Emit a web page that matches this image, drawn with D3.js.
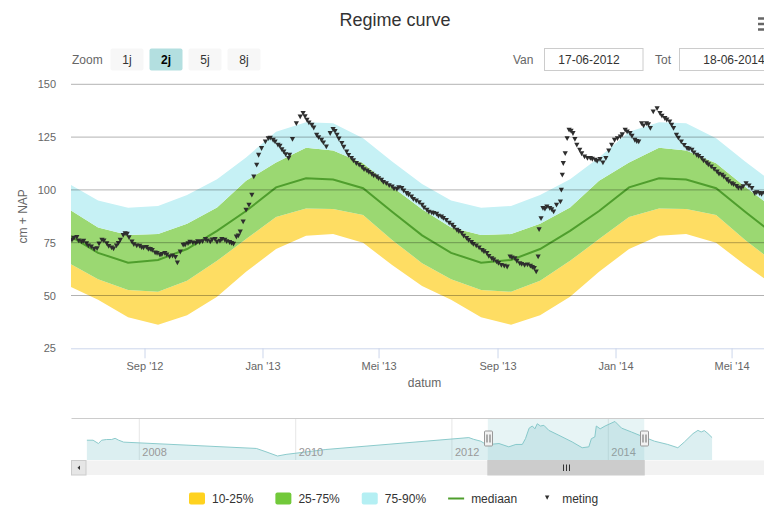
<!DOCTYPE html>
<html>
<head>
<meta charset="utf-8">
<script src="https://cdnjs.cloudflare.com/ajax/libs/d3/7.8.5/d3.min.js"></script>
<style>
body { margin: 0; overflow: hidden; background: #fff; }
text { font-family: "Liberation Sans", Arial, sans-serif; }
</style>
</head>
<body>
<div id="c1"></div>
<script>
// Regime per maand (waarde op de 15e), cm + NAP
var regimeMonths = ["jan", "feb", "mrt", "apr", "mei", "jun", "jul", "aug", "sep", "okt", "nov", "dec"];
var p10 = [72, 78.3, 79.1, 75, 64.4, 54.5, 48, 39.7, 36.2, 40.7, 49.4, 61.3];
var p25 = [87.2, 91.2, 90.9, 88.1, 76.3, 65.3, 57.7, 52.6, 51.8, 57, 66.4, 76.7];
var p50 = [101.2, 105.5, 104.9, 100.8, 89.7, 78.5, 70.2, 65.5, 66.8, 72, 80.6, 90];
var p75 = [113, 120, 118.6, 112.6, 101.5, 90.8, 82.2, 78.6, 79.1, 84, 91.7, 104.3];
var p90 = [127.5, 132, 131.6, 124.4, 113.4, 102.8, 95, 91.5, 92.4, 97.6, 105, 115.4];

var bandDates = ["2012-05-15", "2012-06-15", "2012-07-15", "2012-08-15", "2012-09-15", "2012-10-15",
    "2012-11-15", "2012-12-15", "2013-01-15", "2013-02-15", "2013-03-15", "2013-04-15", "2013-05-15",
    "2013-06-15", "2013-07-15", "2013-08-15", "2013-09-15", "2013-10-15", "2013-11-15", "2013-12-15",
    "2014-01-15", "2014-02-15", "2014-03-15", "2014-04-15", "2014-05-15", "2014-06-15", "2014-07-15"];

// metingen
var meting = [
    ["2012-06-18", 76.3], ["2012-06-20", 77.2], ["2012-06-23", 77.6], ["2012-06-25", 76.0], ["2012-06-28", 75.5],
    ["2012-06-30", 75.8], ["2012-07-03", 74.7], ["2012-07-05", 73.6], ["2012-07-08", 73.1], ["2012-07-11", 72.0],
    ["2012-07-14", 72.3], ["2012-07-16", 74.5], ["2012-07-19", 76.3], ["2012-07-21", 76.0], ["2012-07-24", 74.7],
    ["2012-07-26", 73.4], ["2012-07-29", 72.6], ["2012-07-31", 72.2], ["2012-08-03", 73.6], ["2012-08-05", 74.8],
    ["2012-08-07", 76.3], ["2012-08-10", 78.6], ["2012-08-12", 79.4], ["2012-08-14", 79.1], ["2012-08-16", 77.5],
    ["2012-08-19", 75.5], ["2012-08-21", 74.2], ["2012-08-24", 73.6], ["2012-08-27", 73.5], ["2012-08-29", 72.8],
    ["2012-08-31", 72.6], ["2012-09-03", 72.9], ["2012-09-05", 72.0], ["2012-09-07", 71.9], ["2012-09-09", 71.5],
    ["2012-09-12", 70.3], ["2012-09-14", 70.0], ["2012-09-17", 69.2], ["2012-09-19", 69.5], ["2012-09-22", 70],
    ["2012-09-24", 69.3], ["2012-09-27", 68.4], ["2012-09-30", 68.8], ["2012-10-03", 68.1], ["2012-10-05", 65.5],
    ["2012-10-08", 70.7], ["2012-10-11", 73.9], ["2012-10-13", 74.0], ["2012-10-16", 74.7], ["2012-10-18", 75.3],
    ["2012-10-21", 75], ["2012-10-24", 74.8], ["2012-10-26", 75.6], ["2012-10-28", 75.2], ["2012-10-31", 75.6],
    ["2012-11-03", 76.6], ["2012-11-05", 76.0], ["2012-11-08", 75.5], ["2012-11-10", 76.4], ["2012-11-13", 76.6],
    ["2012-11-15", 75.4], ["2012-11-18", 75.8], ["2012-11-20", 76.6], ["2012-11-23", 76.3], ["2012-11-25", 75.6],
    ["2012-11-28", 75.2], ["2012-11-30", 74.8], ["2012-12-02", 74.4], ["2012-12-05", 77.8], ["2012-12-07", 78.3],
    ["2012-12-09", 80.2], ["2012-12-12", 85], ["2012-12-15", 90.5], ["2012-12-18", 92.9], ["2012-12-21", 97.6],
    ["2012-12-23", 106.3], ["2012-12-26", 111.8], ["2012-12-28", 116.5], ["2012-12-31", 119.7], ["2013-01-04", 122.8],
    ["2013-01-07", 124.4], ["2013-01-09", 124.6], ["2013-01-12", 123.6], ["2013-01-14", 122.8], ["2013-01-17", 121.3],
    ["2013-01-19", 120.8], ["2013-01-21", 119.2], ["2013-01-23", 118.1], ["2013-01-25", 116.8], ["2013-01-28", 115],
    ["2013-01-29", 116.5], ["2013-02-01", 124], ["2013-02-05", 131.5], ["2013-02-09", 134.7], ["2013-02-12", 136.3],
    ["2013-02-14", 134.8], ["2013-02-16", 133.1], ["2013-02-18", 131.8], ["2013-02-21", 130.7], ["2013-02-23", 129.4],
    ["2013-02-26", 126], ["2013-02-28", 124.8], ["2013-03-03", 123.6], ["2013-03-05", 122.4], ["2013-03-08", 120.5],
    ["2013-03-12", 126.8], ["2013-03-15", 128.7], ["2013-03-17", 127.8], ["2013-03-19", 126], ["2013-03-21", 124.2],
    ["2013-03-24", 122.1], ["2013-03-26", 120.3], ["2013-03-29", 118.1], ["2013-03-31", 116.4], ["2013-04-03", 115],
    ["2013-04-05", 113.9], ["2013-04-08", 112.6], ["2013-04-11", 111.8], ["2013-04-14", 110.7], ["2013-04-16", 109.7],
    ["2013-04-19", 109.1], ["2013-04-21", 108.4], ["2013-04-24", 107.5], ["2013-04-26", 106.7], ["2013-04-29", 106.3],
    ["2013-05-01", 105.4], ["2013-05-04", 104.7], ["2013-05-06", 103.7], ["2013-05-09", 103.1], ["2013-05-12", 102.1],
    ["2013-05-15", 101.5], ["2013-05-17", 100.6], ["2013-05-20", 100.3], ["2013-05-22", 101.2], ["2013-05-25", 100.8],
    ["2013-05-27", 99.6], ["2013-05-30", 98.4], ["2013-06-01", 97.8], ["2013-06-04", 96.8], ["2013-06-06", 95.6],
    ["2013-06-09", 94.9], ["2013-06-12", 94.1], ["2013-06-15", 92.9], ["2013-06-17", 91.6], ["2013-06-20", 90.5],
    ["2013-06-22", 89.6], ["2013-06-25", 89.2], ["2013-06-27", 89.0], ["2013-06-30", 88.6], ["2013-07-02", 87.7],
    ["2013-07-05", 87.3], ["2013-07-07", 86.6], ["2013-07-10", 85.7], ["2013-07-13", 84.4], ["2013-07-16", 83.4],
    ["2013-07-18", 82.3], ["2013-07-21", 81], ["2013-07-23", 80.4], ["2013-07-26", 79.5], ["2013-07-28", 78.2],
    ["2013-07-31", 77.1], ["2013-08-02", 76.2], ["2013-08-05", 75.2], ["2013-08-07", 74.3], ["2013-08-10", 73.6],
    ["2013-08-13", 72.6], ["2013-08-16", 71.5], ["2013-08-18", 70.8], ["2013-08-21", 70], ["2013-08-23", 68.6],
    ["2013-08-26", 67.6], ["2013-08-28", 66.9], ["2013-08-31", 66], ["2013-09-02", 65.3], ["2013-09-05", 64.4],
    ["2013-09-08", 64.0], ["2013-09-11", 63.6], ["2013-09-14", 68.4], ["2013-09-16", 67.9], ["2013-09-19", 67.6],
    ["2013-09-21", 66.3], ["2013-09-24", 65.2], ["2013-09-26", 64.8], ["2013-09-29", 64.4], ["2013-10-02", 64.6],
    ["2013-10-05", 64], ["2013-10-07", 63.4], ["2013-10-09", 62.9], ["2013-10-11", 61.3], ["2013-10-13", 68.4],
    ["2013-10-14", 81.3], ["2013-10-16", 86.5], ["2013-10-18", 91.3], ["2013-10-20", 91.0], ["2013-10-22", 92.1],
    ["2013-10-25", 91.3], ["2013-10-27", 90.8], ["2013-10-29", 89.7], ["2013-11-01", 92.9], ["2013-11-05", 94.4],
    ["2013-11-06", 100], ["2013-11-07", 107.1], ["2013-11-08", 112.6], ["2013-11-10", 117.3], ["2013-11-12", 124.4],
    ["2013-11-14", 128.4], ["2013-11-16", 127.9], ["2013-11-18", 126.8], ["2013-11-20", 124.0], ["2013-11-22", 121.3],
    ["2013-11-25", 118.9], ["2013-11-27", 117.2], ["2013-11-30", 115.7], ["2013-12-03", 115.0], ["2013-12-06", 115],
    ["2013-12-08", 114.6], ["2013-12-11", 114.2], ["2013-12-13", 113.6], ["2013-12-16", 114.5], ["2013-12-19", 112.9],
    ["2013-12-22", 115], ["2013-12-25", 118.6], ["2013-12-28", 121.3], ["2013-12-31", 123.6], ["2014-01-03", 124.4],
    ["2014-01-06", 125.2], ["2014-01-08", 126.2], ["2014-01-11", 128.4], ["2014-01-13", 127.6], ["2014-01-16", 126.8],
    ["2014-01-18", 125.5], ["2014-01-21", 123.6], ["2014-01-23", 123.0], ["2014-01-25", 122.8], ["2014-01-28", 131.5],
    ["2014-01-30", 130.4], ["2014-02-02", 131.5], ["2014-02-04", 131.0], ["2014-02-06", 129.2], ["2014-02-09", 137],
    ["2014-02-13", 138.6], ["2014-02-16", 136.3], ["2014-02-18", 135.0], ["2014-02-21", 133.9], ["2014-02-23", 133.2],
    ["2014-02-26", 132.3], ["2014-02-28", 130.8], ["2014-03-02", 129.2], ["2014-03-05", 126], ["2014-03-07", 124.6],
    ["2014-03-10", 122.8], ["2014-03-13", 121.2], ["2014-03-16", 119.7], ["2014-03-18", 119.4], ["2014-03-21", 118.9],
    ["2014-03-23", 117.6], ["2014-03-26", 116.5], ["2014-03-28", 116.0], ["2014-03-31", 115], ["2014-04-02", 113.8],
    ["2014-04-05", 112.9], ["2014-04-07", 112.0], ["2014-04-10", 111], ["2014-04-13", 109.8], ["2014-04-16", 108.6],
    ["2014-04-18", 107.6], ["2014-04-21", 107.1], ["2014-04-23", 106.2], ["2014-04-26", 105], ["2014-04-28", 104.0],
    ["2014-05-01", 103.1], ["2014-05-03", 102.6], ["2014-05-06", 101.8], ["2014-05-08", 101.0], ["2014-05-11", 100.8],
    ["2014-05-13", 101.6], ["2014-05-16", 103.1], ["2014-05-19", 102.0], ["2014-05-22", 100.8], ["2014-05-25", 98.4],
    ["2014-05-27", 98.8], ["2014-05-30", 98.4], ["2014-06-01", 98.0], ["2014-06-04", 98.4], ["2014-06-06", 98.6],
    ["2014-06-09", 98]
];

// navigator reeks (hele periode)
var navData = [
    ["2007-05-01", 85.5], ["2007-05-30", 85.5], ["2007-06-24", 76], ["2007-07-09", 85.5], ["2007-08-01", 87.5],
    ["2007-08-25", 87.5], ["2007-09-10", 91], ["2007-09-25", 86], ["2007-10-20", 80], ["2009-07-01", 62],
    ["2009-08-15", 52.5], ["2009-10-08", 40.4], ["2009-11-17", 45], ["2010-05-22", 59], ["2012-03-20", 93],
    ["2012-04-12", 88], ["2012-05-15", 82.7], ["2012-06-09", 73.4], ["2012-07-08", 74.2], ["2012-08-08", 76],
    ["2012-09-23", 66.6], ["2012-10-26", 73.4], ["2012-11-25", 73.4], ["2012-12-10", 90], ["2012-12-27", 120],
    ["2013-01-11", 126], ["2013-01-23", 118], ["2013-02-03", 132.5], ["2013-02-18", 126], ["2013-03-06", 128],
    ["2013-03-29", 113.6], ["2013-05-15", 99.6], ["2013-07-16", 80.7], ["2013-09-01", 64], ["2013-10-02", 66.6],
    ["2013-10-14", 90], ["2013-10-30", 94.8], ["2013-11-06", 126], ["2013-11-24", 118], ["2013-12-17", 126],
    ["2014-01-09", 132.5], ["2014-02-01", 139], ["2014-03-04", 120], ["2014-04-19", 109], ["2014-06-04", 97.6],
    ["2014-08-05", 82.7], ["2014-10-06", 73.4], ["2014-11-22", 64], ["2014-12-23", 80.7], ["2015-02-01", 104.4],
    ["2015-02-24", 113.6], ["2015-03-11", 109], ["2015-03-26", 113], ["2015-04-12", 104.4], ["2015-05-01", 93]
];

var yTicks = [25, 50, 75, 100, 125, 150];
var xTickDates = ["2012-09-01", "2013-01-01", "2013-05-01", "2013-09-01", "2014-01-01", "2014-05-01"];
var xTickLabels = ["Sep '12", "Jan '13", "Mei '13", "Sep '13", "Jan '14", "Mei '14"];
var navTickDates = ["2008-01-01", "2010-01-01", "2012-01-01", "2014-01-01"];
var navTickLabels = ["2008", "2010", "2012", "2014"];
var zoomButtons = ["1j", "2j", "5j", "8j"];
var rangeFrom = "2012-06-17", rangeTo = "2014-06-18";
var legendNames = ["10-25%", "25-75%", "75-90%", "mediaan", "meting"];

var w = 790, h = 506;
var plot = { left: 71, right: 778, top: 84.3, bottom: 348.3 };
var parse = d3.timeParse("%Y-%m-%d");
var fmt = d3.timeFormat("%d-%m-%Y");

var colors = {
    low: "#fedd63", mid: "#9bd872", high: "#c6f1f5", median: "#4f9e2d", meting: "#2e2e2e",
    legLow: "#ffd21f", legMid: "#72c93a", legHigh: "#b4eff3"
};

var svg = d3.select("#c1").append("svg")
    .attr("width", w)
    .attr("height", h);

// Title + menu
svg.append("text").attr("x", 395).attr("y", 26).attr("text-anchor", "middle")
    .style("font-size", "18px").attr("fill", "#333").text("Regime curve");
[18.5, 24, 29.5].forEach(function (yy) {
    svg.append("line").attr("x1", 758).attr("x2", 774).attr("y1", yy).attr("y2", yy)
        .attr("stroke", "#666").attr("stroke-width", 2.5);
});

// Range selector
svg.append("text").attr("x", 72).attr("y", 64).attr("fill", "#666").style("font-size", "12px").text("Zoom");
zoomButtons.forEach(function (b, i) {
    var bx = 110.5 + i * 39;
    var sel = b === "2j";
    svg.append("rect").attr("x", bx).attr("y", 48.5).attr("width", 33).attr("height", 22).attr("rx", 2)
        .attr("fill", sel ? "#b3dfe0" : "#f7f7f7");
    svg.append("text").attr("x", bx + 16.5).attr("y", 64).attr("text-anchor", "middle")
        .style("font-size", "12px").style("font-weight", sel ? "bold" : "normal")
        .attr("fill", sel ? "#000" : "#333").text(b);
});
[["Van", 513, 544.5, 589, rangeFrom], ["Tot", 655, 679.5, 734, rangeTo]].forEach(function (r) {
    svg.append("text").attr("x", r[1]).attr("y", 64).attr("fill", "#666").style("font-size", "12px").text(r[0]);
    svg.append("rect").attr("x", r[2]).attr("y", 48.5).attr("width", 98.5).attr("height", 22)
        .attr("fill", "#fff").attr("stroke", "#ccc");
    svg.append("text").attr("x", r[3]).attr("y", 64).attr("text-anchor", "middle").attr("fill", "#333")
        .style("font-size", "12px").text(fmt(parse(r[4])));
});

// Scales
var x = d3.scaleTime().domain([parse(rangeFrom), parse(rangeTo)]).range([plot.left, plot.right]);
var y = d3.scaleLinear().domain([25, 150]).range([plot.bottom, plot.top]);

var bands = bandDates.map(function (d) {
    var dt = parse(d), m = dt.getMonth();
    return { date: dt, p10: p10[m], p25: p25[m], p50: p50[m], p75: p75[m], p90: p90[m] };
});

svg.append("clipPath").attr("id", "clip").append("rect")
    .attr("x", plot.left).attr("y", plot.top - 10).attr("width", plot.right - plot.left).attr("height", plot.bottom - plot.top + 10);
var pg = svg.append("g").attr("clip-path", "url(#clip)");

function band(lo, hi) {
    return d3.area().x(function (d) { return x(d.date); })
        .y0(function (d) { return y(d[lo]); })
        .y1(function (d) { return y(d[hi]); });
}
pg.append("path").datum(bands).attr("d", band("p10", "p25")).attr("fill", colors.low);
pg.append("path").datum(bands).attr("d", band("p25", "p75")).attr("fill", colors.mid);
pg.append("path").datum(bands).attr("d", band("p75", "p90")).attr("fill", colors.high);

// grid over the bands
svg.append("g").selectAll("line").data(yTicks.slice(1)).enter().append("line")
    .attr("x1", plot.left).attr("x2", w).attr("y1", function (d) { return y(d); }).attr("y2", function (d) { return y(d); })
    .attr("stroke", "#000").attr("stroke-opacity", 0.3).attr("stroke-width", 1);

pg.append("path").datum(bands)
    .attr("d", d3.line().x(function (d) { return x(d.date); }).y(function (d) { return y(d.p50); }))
    .attr("fill", "none").attr("stroke", colors.median).attr("stroke-width", 2);

var tri = "M-2.6,-2.2 L2.6,-2.2 L0,2.6 Z";
pg.selectAll("path.m").data(meting).enter().append("path").attr("class", "m")
    .attr("d", tri)
    .attr("transform", function (d) { return "translate(" + x(parse(d[0])) + "," + y(d[1]) + ")"; })
    .attr("fill", colors.meting);

// Y axis
var yAxis = svg.append("g").attr("transform", "translate(" + plot.left + ",0)")
    .call(d3.axisLeft(y).tickValues(yTicks).tickSize(0).tickPadding(15));
yAxis.select(".domain").remove();
yAxis.selectAll("text").style("font-size", "11px").attr("fill", "#666").style("font-family", "'Liberation Sans', Arial, sans-serif");
svg.append("text").attr("transform", "translate(27," + ((plot.top + plot.bottom) / 2) + ") rotate(-90)")
    .attr("text-anchor", "middle").attr("fill", "#666").style("font-size", "12px").text("cm + NAP");

// X axis
var xAxis = svg.append("g").attr("transform", "translate(0," + plot.bottom + ")")
    .call(d3.axisBottom(x).tickValues(xTickDates.map(parse)).tickSize(10).tickPadding(4)
        .tickFormat(function (d, i) { return xTickLabels[i]; }));
xAxis.select(".domain").attr("stroke", "#ccd6eb").attr("d", "M" + plot.left + ",0.5H" + w);
xAxis.selectAll(".tick line").attr("stroke", "#ccd6eb");
xAxis.selectAll("text").style("font-size", "11px").attr("fill", "#666").style("font-family", "'Liberation Sans', Arial, sans-serif");
svg.append("text").attr("x", (plot.left + plot.right) / 2).attr("y", 387).attr("text-anchor", "middle")
    .attr("fill", "#666").style("font-size", "12px").text("datum");

// Navigator
var nav = { top: 418.5, bottom: 460, left: 71.5 };
var navX = d3.scaleTime().domain([parse("2008-01-01"), parse("2014-01-01")]).range([139.3, 608.3]);
var navY = d3.scaleLinear().domain([29, 147.5]).range([nav.bottom, nav.top]);
var ng = svg.append("g");

ng.selectAll("line.ng").data(navTickDates).enter().append("line").attr("class", "ng")
    .attr("x1", function (d) { return navX(parse(d)); }).attr("x2", function (d) { return navX(parse(d)); })
    .attr("y1", nav.top).attr("y2", nav.bottom).attr("stroke", "#e6e6e6");

ng.append("path").datum(navData)
    .attr("d", d3.area().x(function (d) { return navX(parse(d[0])); }).y0(nav.bottom).y1(function (d) { return navY(d[1]); }))
    .attr("fill", "rgb(110,190,195)").attr("fill-opacity", 0.24);
ng.append("path").datum(navData)
    .attr("d", d3.line().x(function (d) { return navX(parse(d[0])); }).y(function (d) { return navY(d[1]); }))
    .attr("fill", "none").attr("stroke", "#8ccbcc").attr("stroke-width", 1);

ng.selectAll("text.nt").data(navTickDates).enter().append("text").attr("class", "nt")
    .attr("x", function (d) { return navX(parse(d)) + 3; }).attr("y", 456)
    .attr("fill", "#999").style("font-size", "11px")
    .text(function (d, i) { return navTickLabels[i]; });

var hL = navX(parse(rangeFrom)), hR = navX(parse(rangeTo));
ng.append("rect").attr("x", hL).attr("y", nav.top).attr("width", hR - hL).attr("height", nav.bottom - nav.top)
    .attr("fill", "rgb(110,190,195)").attr("fill-opacity", 0.17);
ng.append("line").attr("x1", nav.left).attr("x2", w).attr("y1", nav.top).attr("y2", nav.top)
    .attr("stroke", "#ccc").attr("stroke-width", 1);

// scrollbar
ng.append("rect").attr("x", nav.left).attr("y", 460.5).attr("width", w - nav.left).attr("height", 14.5).attr("fill", "#f2f2f2");
ng.append("rect").attr("x", nav.left).attr("y", 460.5).attr("width", 14.5).attr("height", 14.5)
    .attr("fill", "#e6e6e6").attr("stroke", "#ccc");
ng.append("path").attr("d", "M77.5,467.7 L80,465.5 L80,470 Z").attr("fill", "#333");
ng.append("rect").attr("x", hL).attr("y", 460.5).attr("width", hR - hL).attr("height", 14.5)
    .attr("fill", "#ccc").attr("stroke", "#ccc");
[-3, 0, 3].forEach(function (o) {
    var cx = Math.round((hL + hR) / 2) + o + 0.5;
    ng.append("line").attr("x1", cx).attr("x2", cx).attr("y1", 464.5).attr("y2", 471).attr("stroke", "#333");
});

// handles
[hL, hR].forEach(function (hx) {
    var cx = Math.round(hx) + 0.5;
    ng.append("rect").attr("x", cx - 4).attr("y", 431).attr("width", 8).attr("height", 15).attr("rx", 1)
        .attr("fill", "#f2f2f2").attr("stroke", "#999");
    [-1.5, 1.5].forEach(function (o) {
        ng.append("line").attr("x1", cx + o).attr("x2", cx + o).attr("y1", 434.5).attr("y2", 442.5)
            .attr("stroke", "#666");
    });
});

// Legend
var lg = svg.append("g");
var lx = 189;
legendNames.forEach(function (name, i) {
    if (i < 3) {
        lg.append("rect").attr("x", lx).attr("y", 492.5).attr("width", 16).attr("height", 12).attr("rx", 2)
            .attr("fill", [colors.legLow, colors.legMid, colors.legHigh][i]);
    } else if (i === 3) {
        lg.append("line").attr("x1", lx).attr("x2", lx + 16).attr("y1", 498.5).attr("y2", 498.5)
            .attr("stroke", colors.median).attr("stroke-width", 2);
    } else {
        lg.append("path").attr("d", "M-2.2,-2 L2.2,-2 L0,2.2 Z").attr("transform", "translate(" + (lx + 8) + ",497.5)").attr("fill", colors.meting);
    }
    var t = lg.append("text").attr("x", lx + 23).attr("y", 503).attr("fill", "#333")
        .style("font-size", "12px").text(name);
    lx += 23 + t.node().getComputedTextLength() + 22;
});
</script>
</body>
</html>
